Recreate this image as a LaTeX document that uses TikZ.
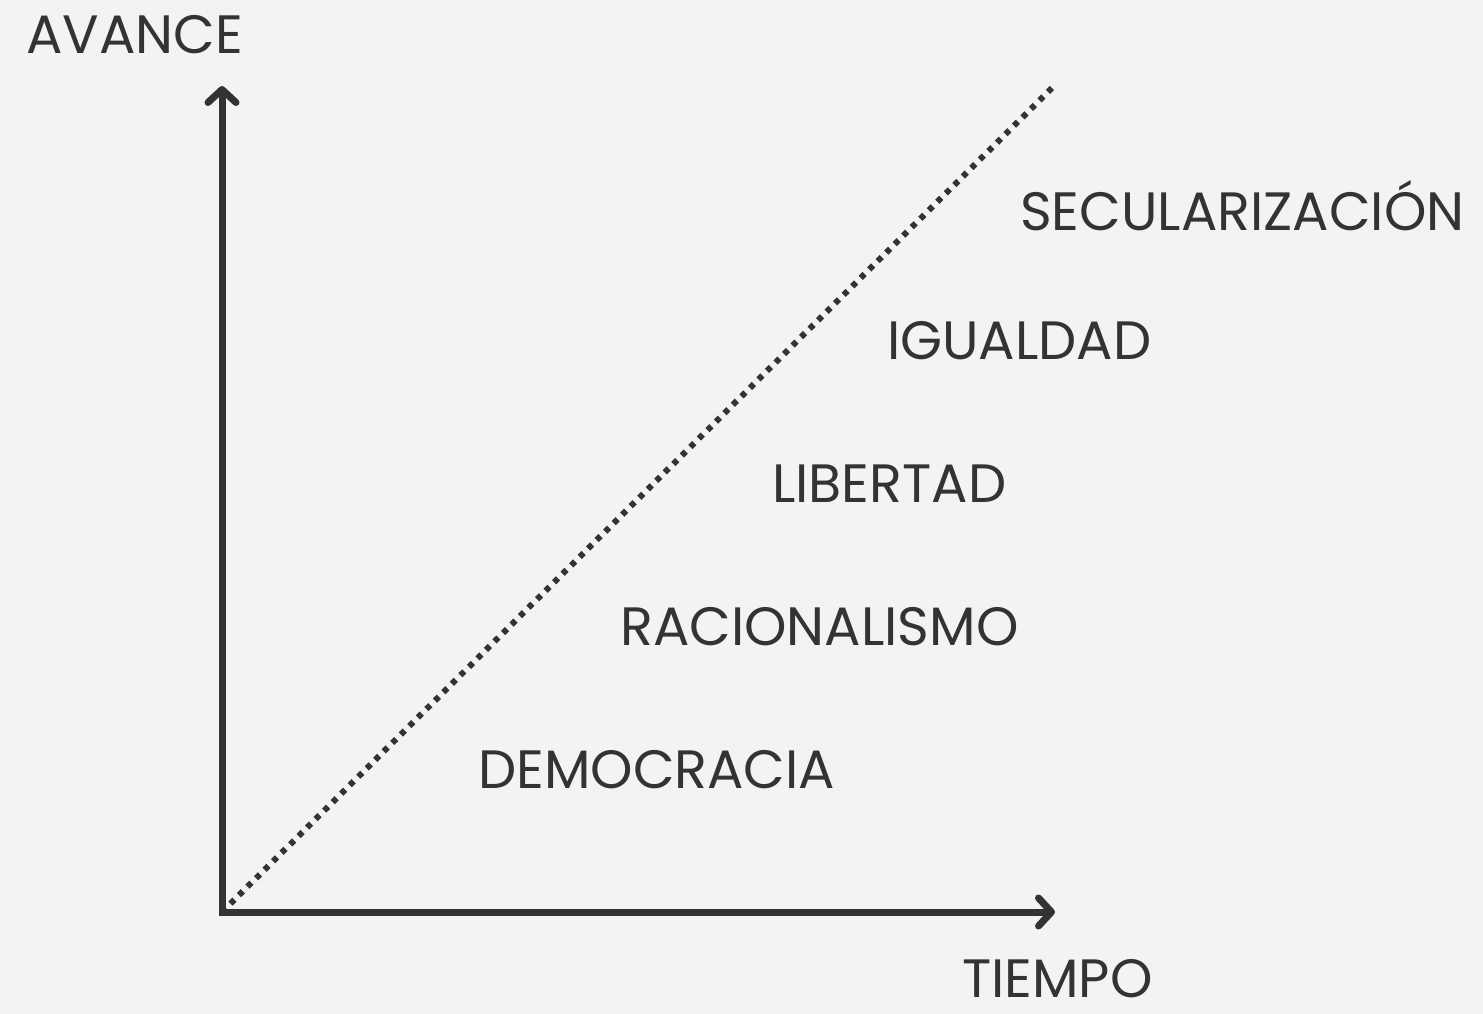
\documentclass[tikz,border=0pt]{standalone}
\usepackage{fontspec}
\setmainfont{Poppins}
\usetikzlibrary{arrows.meta}
\definecolor{bg}{RGB}{243,243,243}
\definecolor{ink}{RGB}{52,50,51}
\begin{document}
\begin{tikzpicture}[x=1pt,y=-1pt,
  lbl/.style={anchor=base west,inner sep=0pt,text=ink,text depth=0pt,font=\fontsize{54}{60}\selectfont},
  axis/.style={draw=ink,line width=7pt,line join=miter,
    {Straight Barb[length=13pt,width=28pt,round]}-{Straight Barb[length=13pt,width=28pt,round]}},
  trend/.style={draw=ink,line width=6pt,dash pattern=on 5.5pt off 6.5pt}]
\fill[bg] (0,0) rectangle (1483,1014);
\useasboundingbox (0,0) rectangle (1483,1014);
\coordinate (origin) at (222,912);
\coordinate (ytop) at (222,86);
\coordinate (xend) at (1055,912);
\coordinate (dend) at (1055,85);
\draw[trend] (origin) -- (dend);
\draw[axis] (ytop) -- (origin) -- (xend);
\node[lbl] (avance) at (26,54) {AVANCE};
\node[lbl] (tiempo) at (962,997) {TIEMPO};
\node[lbl] (secul) at (1020,230) {SECULARIZACIÓN};
\node[lbl] (igual) at (887,359) {IGUALDAD};
\node[lbl] (liber) at (772,502) {LIBERTAD};
\node[lbl] (racio) at (620,645) {RACIONALISMO};
\node[lbl] (democ) at (478,788) {DEMOCRACIA};
\end{tikzpicture}
\end{document}
